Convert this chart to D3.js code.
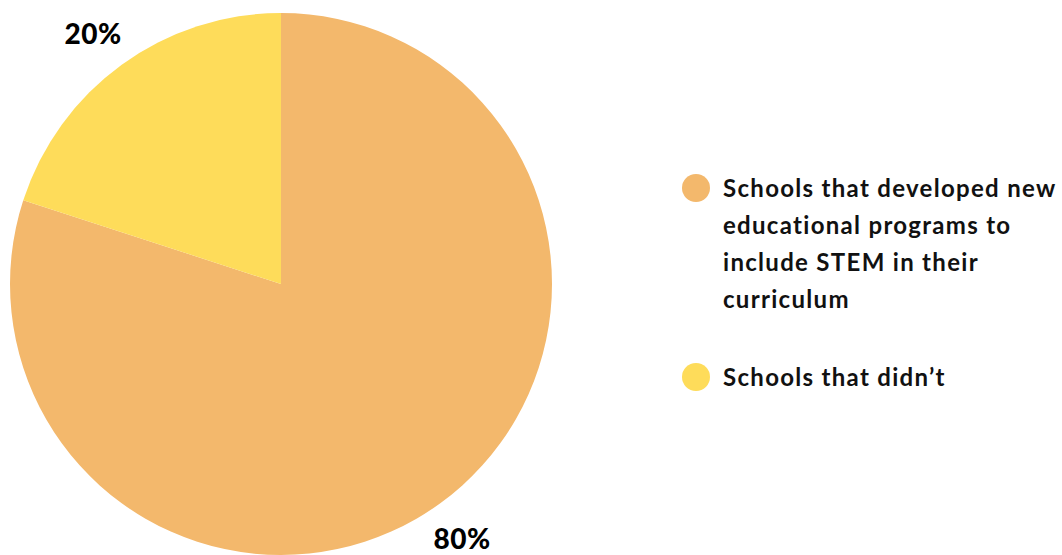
<!DOCTYPE html>
<html><head><meta charset="utf-8">
<script src="https://cdn.jsdelivr.net/npm/d3@7"></script>
<style>body{margin:0;background:#fff}svg{display:block}text{font-variant-ligatures:none}</style>
</head><body>
<svg id="c" width="1062" height="555"></svg>
<script>
const categories = ["Schools that developed new educational programs to include STEM in their curriculum", "Schools that didn\u2019t"];
const values = [80, 20];
const valueLabels = ["80%", "20%"];
const legendLines = [["Schools that developed new", "educational programs to", "include STEM in their", "curriculum"], ["Schools that didn\u2019t"]];
const colors = ["#F3B86C", "#FEDC5A"];

const svg = d3.select("#c");
const cx = 281, cy = 284, r = 271;
const pie = d3.pie().sort(null).value(d => d)(values);
const arc = d3.arc().innerRadius(0).outerRadius(r);
const g = svg.append("g").attr("transform", `translate(${cx},${cy})`);
g.selectAll("path").data(pie).enter().append("path")
  .attr("d", arc).attr("fill", (d, i) => colors[i]);

const font = "Lato, 'Open Sans', sans-serif";
// value labels
const labelPos = [[462, 549], [93, 44]];
svg.selectAll("text.val").data(valueLabels).enter().append("text")
  .attr("class", "val")
  .attr("x", (d, i) => labelPos[i][0]).attr("y", (d, i) => labelPos[i][1])
  .attr("text-anchor", "middle")
  .attr("font-family", font).attr("font-weight", 900).attr("font-size", 28)
  .attr("letter-spacing", 0.5)
  .attr("fill", "#000").text(d => d);

// legend
const legY = [188, 377];
const lg = svg.append("g");
categories.forEach((c, i) => {
  lg.append("circle").attr("cx", 696).attr("cy", legY[i]).attr("r", 14).attr("fill", colors[i]);
  const t = lg.append("text").attr("x", 723).attr("y", legY[i] + 9)
    .attr("font-family", font).attr("font-weight", 700).attr("font-size", 24)
    .attr("letter-spacing", 1.3).attr("fill", "#111");
  legendLines[i].forEach((l, j) => {
    t.append("tspan").attr("x", 723).attr("dy", j === 0 ? 0 : 37).text(l);
  });
});
</script>
</body></html>
